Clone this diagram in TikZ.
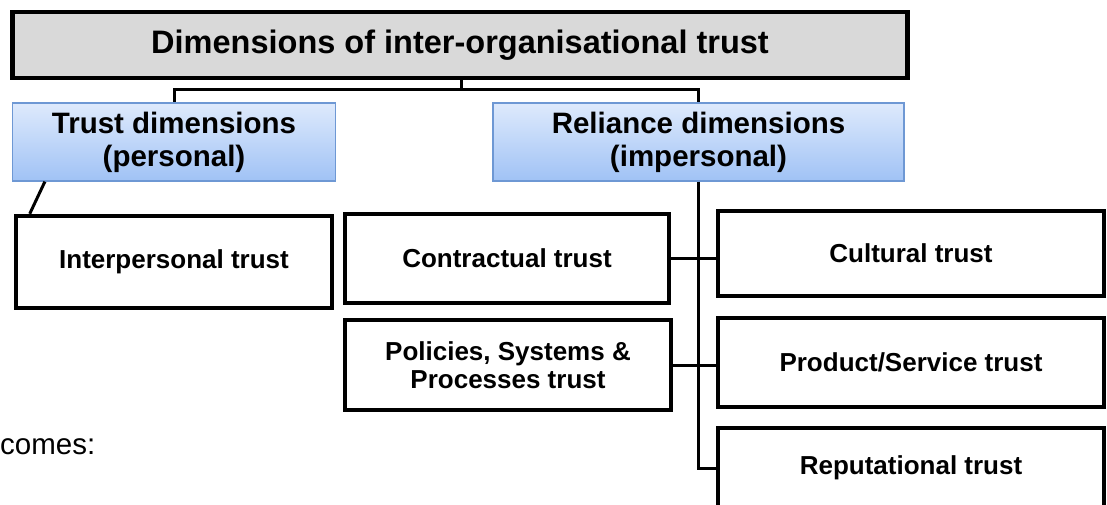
\documentclass[tikz,border=0pt]{standalone}
\usepackage{fontspec}
\setmainfont{Liberation Sans}
\definecolor{boxgray}{RGB}{217,217,217}
\definecolor{bluetop}{RGB}{222,234,252}
\definecolor{bluebot}{RGB}{160,194,245}
\definecolor{blueline}{RGB}{110,152,212}
\begin{document}
\begin{tikzpicture}[x=1pt,y=-1pt]
		\tikzstyle{head}=[draw=black,line width=4.5pt,fill=boxgray,minimum width=895pt,minimum height=66pt,font=\fontsize{32.5}{34}\selectfont\bfseries]
		\tikzstyle{dim}=[draw=blueline,line width=1.2pt,top color=bluetop,bottom color=bluebot,align=center,font=\fontsize{29.5}{33}\selectfont\bfseries,minimum height=78pt]
		\tikzstyle{leaf}=[draw=black,line width=4.5pt,fill=white,align=center,font=\fontsize{26}{28}\selectfont\bfseries]
		\tikzstyle{link}=[line width=3pt]
		\useasboundingbox (0,0) rectangle (1107,504);
		\clip (0,0) rectangle (1107,504);
		\node[head] (d_top) at (460,45) {Dimensions of inter-organisational trust};
		\node[dim,minimum width=323pt] (d_pers) at (174,142) {Trust dimensions\\(personal)};
		\node[dim,minimum width=411pt] (d_impers) at (698.5,142) {Reliance dimensions\\(impersonal)};
		\node[leaf,minimum width=316pt,minimum height=92pt] (l_inter) at (174,262) {Interpersonal trust};
		\node[leaf,minimum width=324pt,minimum height=89pt] (l_contr) at (507,258.5) {Contractual trust};
		\node[leaf,minimum width=326pt,minimum height=90pt] (l_pol) at (508,365) {Policies, Systems \&\\Processes trust};
		\node[leaf,minimum width=386pt,minimum height=85pt] (l_cult) at (911,253.5) {Cultural trust};
		\node[leaf,minimum width=386pt,minimum height=89pt] (l_prod) at (911,362.5) {Product/Service trust};
		\node[leaf,minimum width=386pt,minimum height=80pt] (l_rep) at (911,468) {Reputational trust};
		\node[anchor=west,inner sep=0pt,font=\fontsize{29.5}{32}\selectfont] (outc) at (0,447) {comes:};
		\coordinate (split) at (461,89);
		\draw[link] (split |- d_top.south) -- (split) -| (d_pers.north);
		\draw[link] (split) -| (d_impers.north);
		\draw[link] ([xshift=33pt]d_pers.south west) -- ([xshift=16pt]l_inter.north west);
		\draw[link] (d_impers.south) -- (d_impers.south |- l_rep.west) -- (l_rep.west);
		\draw[link] (l_contr.east) -- (l_cult.west |- l_contr.east) (l_pol.east) -- (l_prod.west |- l_pol.east);
	\end{tikzpicture}
\end{document}
